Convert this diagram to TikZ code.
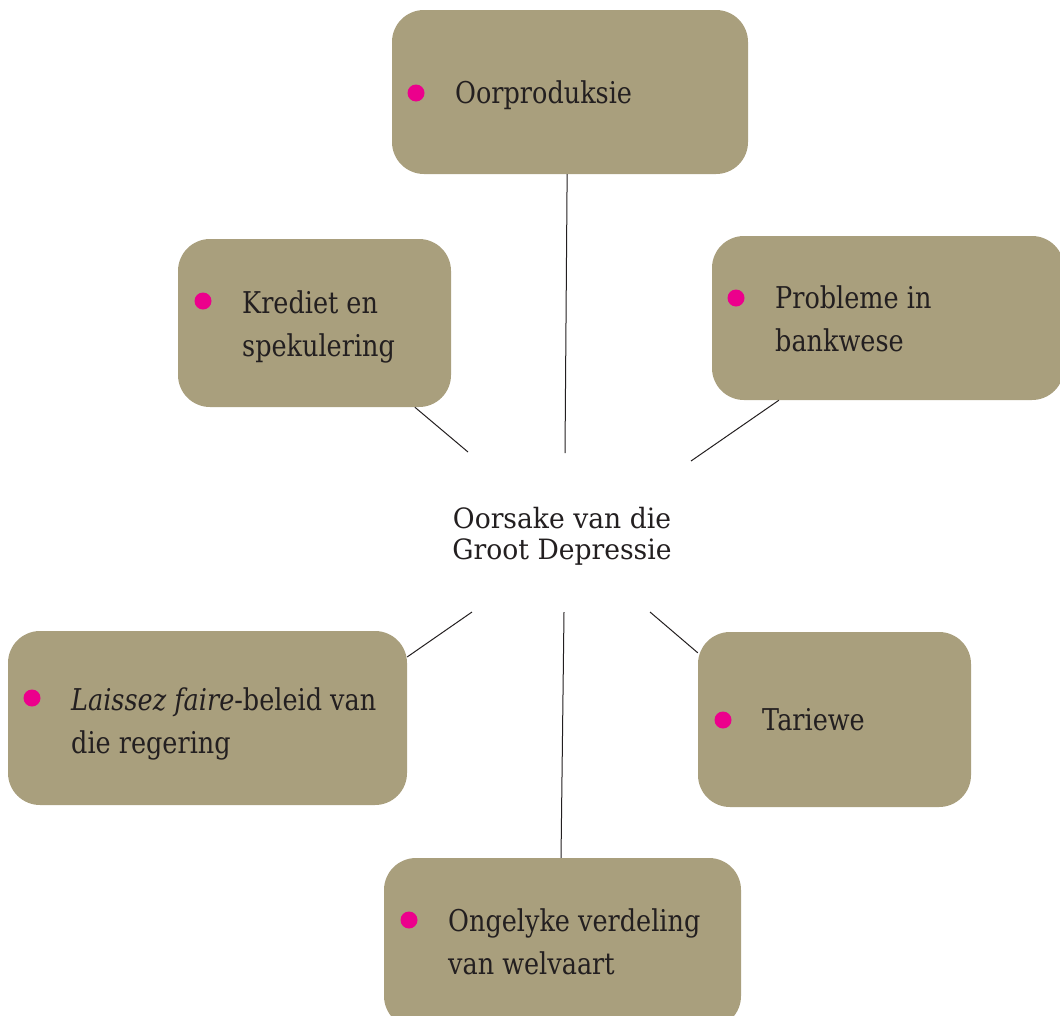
\documentclass[tikz,border=0pt]{standalone}
\usepackage{fontspec}
\setmainfont{DejaVu Serif}[FakeStretch=0.85]
\newfontfamily\centrefont{DejaVu Serif}[FakeStretch=0.95]
\definecolor{boxfill}{HTML}{A99F7D}
\definecolor{bul}{HTML}{EC008C}
\definecolor{ink}{HTML}{231F20}
\begin{document}
\begin{tikzpicture}[x=1pt,y=1pt,
  box/.style={fill=boxfill, draw=none, rounded corners=32pt, inner sep=0pt},
  bullet/.style={circle, fill=bul, draw=none, minimum size=17pt, inner sep=0pt},
  lbl/.style={anchor=west, inner sep=0pt, align=left, text=ink, font=\fontsize{30}{43}\selectfont},
  conn/.style={draw=ink, line width=1pt}]
\useasboundingbox (0,0) rectangle (1060,-1015);
\clip (0,0) rectangle (1060,-1015);
% boxes
\node[box, minimum width=356pt, minimum height=164pt] (oor) at (570,-92) {};
\node[box, minimum width=273pt, minimum height=168pt] (kre) at (314.5,-323) {};
\node[box, minimum width=352pt, minimum height=164pt] (pro) at (888,-318) {};
\node[box, minimum width=399pt, minimum height=174pt] (lai) at (207.5,-718) {};
\node[box, minimum width=273pt, minimum height=175pt] (tar) at (834.5,-719.5) {};
\node[box, minimum width=357pt, minimum height=170pt] (ong) at (562.5,-943) {};
% bullets
\node[bullet] (b1) at (416,-93) {};
\node[bullet] (b2) at (203,-301) {};
\node[bullet] (b3) at (736,-298) {};
\node[bullet] (b4) at (32,-698) {};
\node[bullet] (b5) at (723,-720) {};
\node[bullet] (b6) at (409,-920) {};
% labels
\node[lbl] (t1) at (455,-95) {\strut Oorproduksie\strut};
\node[lbl] (t2) at (242,-326) {\strut Krediet en\\spekulering\strut};
\node[lbl] (t3) at (775,-321) {\strut Probleme in\\bankwese\strut};
\node[lbl] (t4) at (71,-723) {\strut\emph{Laissez faire}-beleid van\\die regering\strut};
\node[lbl] (t5) at (762,-722) {\strut Tariewe\strut};
\node[lbl] (t6) at (448,-944) {\strut Ongelyke verdeling\\van welvaart\strut};
% centre
\node[align=center, inner sep=0pt, text=ink, font=\centrefont\fontsize{28}{31}\selectfont] (c) at (562,-536) {Oorsake van die\\Groot Depressie};
% connector ends
\coordinate (e1) at (565,-453);
\coordinate (e2) at (468,-452);
\coordinate (e3) at (691,-461);
\coordinate (e4) at (472,-612);
\coordinate (e5) at (650,-612);
\coordinate (e6) at (564,-612);
\draw[conn] (oor.268.6) -- (e1);
\draw[conn] (kre.320) -- (e2);
\draw[conn] (pro.217.5) -- (e3);
\draw[conn] (lai.17) -- (e4);
\draw[conn] (tar.154.7) -- (e5);
\draw[conn] (ong.91) -- (e6);
\end{tikzpicture}
\end{document}
